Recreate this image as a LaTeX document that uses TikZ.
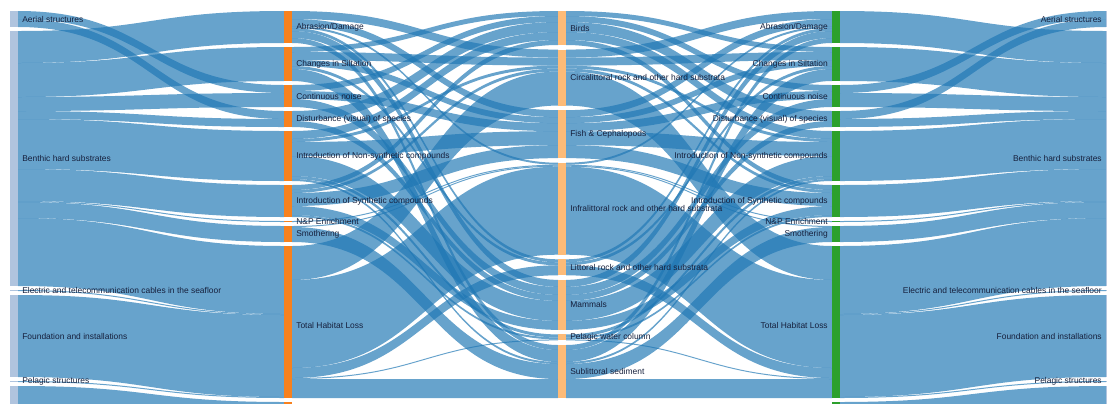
\documentclass[tikz,border=0pt]{standalone}
\usepackage{fontspec}
\setmainfont{Liberation Sans}
\usetikzlibrary{calc}

\definecolor{flowblue}{RGB}{31,119,180}
\definecolor{srcbar}{RGB}{176,196,222}
\definecolor{presbar}{RGB}{247,129,30}
\definecolor{habbar}{RGB}{253,187,120}
\definecolor{presbarR}{RGB}{44,160,44}
\definecolor{lbltext}{RGB}{22,32,60}

\tikzset{
  slot/.style={inner sep=0pt, outer sep=0pt, minimum width=0.2cm, anchor=north west, draw=none},
  flow/.style={fill=flowblue, fill opacity=0.68},
  lbl/.style={font=\fontsize{6pt}{7pt}\selectfont, text=lbltext, inner sep=0pt},
}

% a node slot of the Sankey: name, x, top y, height (all in px units)
\newcommand\sknode[4]{%
  \node[slot, minimum height=#4*0.025cm] (#1) at (#2,#3) {};
  \expandafter\xdef\csname so@#1\endcsname{0}%
  \expandafter\xdef\csname ti@#1\endcsname{0}%
}
% a flow band from the east side of #1 to the west side of #2, width #3
\newcommand\sklink[3]{%
  \pgfmathsetmacro\skso{\csname so@#1\endcsname}%
  \pgfmathsetmacro\skti{\csname ti@#2\endcsname}%
  \path ($(#1.north east)+(0,\skso)$) coordinate (a1)
        ($(#1.north east)+(0,\skso+#3)$) coordinate (a2)
        ($(#2.north west)+(0,\skti)$) coordinate (b1)
        ($(#2.north west)+(0,\skti+#3)$) coordinate (b2)
        ($(a1)!0.5!(b1)$) coordinate (m);
  \fill[flow] (a1) .. controls (m |- a1) and (m |- b1) .. (b1)
     -- (b2) .. controls (m |- b2) and (m |- a2) .. (a2) -- cycle;
  \pgfmathsetmacro\sktmp{\skso+#3}%
  \expandafter\xdef\csname so@#1\endcsname{\sktmp}%
  \pgfmathsetmacro\sktmp{\skti+#3}%
  \expandafter\xdef\csname ti@#2\endcsname{\sktmp}%
}
\newcommand\skbar[2]{\fill[#2] (#1.north west) rectangle (#1.south east);}

\begin{document}
\begin{tikzpicture}[x=0.025cm, y=-0.025cm]
\useasboundingbox (0,0) rectangle (1107,403);
\clip (0,0) rectangle (1107,403);

% ---- structures (left)
\sknode{aer}{10}{11}{16}
\sknode{ben}{10}{31}{255}
\sknode{ele}{10}{290}{1}
\sknode{fou}{10}{295}{82}
\sknode{pel}{10}{381}{1}
\sknode{low}{10}{386}{20}
% ---- pressures (left)
\sknode{abr}{284}{11}{32}
\sknode{sil}{284}{47}{34}
\sknode{noi}{284}{85}{22}
\sknode{dis}{284}{111}{16}
\sknode{nsy}{284}{131}{50}
\sknode{syn}{284}{185}{32}
\sknode{nep}{284}{221}{1}
\sknode{smo}{284}{226}{16}
\sknode{thl}{284}{246}{152}
\sknode{lowP}{284}{402}{20}
% ---- habitats and species (centre)
\sknode{bir}{558}{11}{34}
\sknode{cir}{558}{49.57}{56}
\sknode{fis}{558}{110.14}{48}
\sknode{inf}{558}{162.71}{92}
\sknode{lit}{558}{259.29}{16}
\sknode{mam}{558}{279.86}{50}
\sknode{pwc}{558}{334.43}{6}
\sknode{sub}{558}{345}{53}
% ---- pressures (right)
\sknode{abrR}{832}{11}{32}
\sknode{silR}{832}{47}{34}
\sknode{noiR}{832}{85}{22}
\sknode{disR}{832}{111}{16}
\sknode{nsyR}{832}{131}{50}
\sknode{synR}{832}{185}{32}
\sknode{nepR}{832}{221}{1}
\sknode{smoR}{832}{226}{16}
\sknode{thlR}{832}{246}{152}
\sknode{lowPR}{832}{402}{20}
% ---- structures (right)
\sknode{aerR}{1106}{11}{16}
\sknode{benR}{1106}{31}{255}
\sknode{eleR}{1106}{290}{1}
\sknode{fouR}{1106}{295}{82}
\sknode{pelR}{1106}{381}{1}
\sknode{lowR}{1106}{386}{20}

% ---- structures -> pressures
\sklink{aer}{noi}{8}\sklink{aer}{dis}{8}
\sklink{ben}{abr}{32}\sklink{ben}{sil}{34}\sklink{ben}{noi}{14}\sklink{ben}{dis}{8}
\sklink{ben}{nsy}{50}\sklink{ben}{syn}{32}\sklink{ben}{nep}{1}\sklink{ben}{smo}{16}
\sklink{ben}{thl}{68}
\sklink{ele}{thl}{1}
\sklink{fou}{thl}{82}
\sklink{pel}{thl}{1}
\sklink{low}{lowP}{20}

% ---- pressures -> habitats and species
\sklink{abr}{cir}{8}\sklink{abr}{fis}{7}\sklink{abr}{inf}{2}\sklink{abr}{lit}{3}\sklink{abr}{mam}{7}\sklink{abr}{sub}{5}
\sklink{sil}{bir}{5}\sklink{sil}{cir}{8}\sklink{sil}{fis}{6}\sklink{sil}{lit}{3}\sklink{sil}{sub}{12}
\sklink{noi}{bir}{6}\sklink{noi}{fis}{8}\sklink{noi}{mam}{8}
\sklink{dis}{bir}{10}\sklink{dis}{mam}{6}
\sklink{nsy}{bir}{8}\sklink{nsy}{cir}{3}\sklink{nsy}{fis}{14}\sklink{nsy}{mam}{20}\sklink{nsy}{pwc}{3}\sklink{nsy}{sub}{2}
\sklink{syn}{bir}{5}\sklink{syn}{cir}{3}\sklink{syn}{fis}{13}\sklink{syn}{mam}{9}\sklink{syn}{pwc}{2}
\sklink{nep}{inf}{1}
\sklink{smo}{inf}{1}\sklink{smo}{sub}{15}
\sklink{thl}{cir}{34}\sklink{thl}{inf}{88}\sklink{thl}{lit}{10}\sklink{thl}{pwc}{1}\sklink{thl}{sub}{19}

% ---- habitats and species -> pressures
\sklink{bir}{silR}{5}\sklink{bir}{noiR}{6}\sklink{bir}{disR}{10}\sklink{bir}{nsyR}{8}\sklink{bir}{synR}{5}
\sklink{cir}{abrR}{8}\sklink{cir}{silR}{8}\sklink{cir}{nsyR}{3}\sklink{cir}{synR}{3}\sklink{cir}{thlR}{34}
\sklink{fis}{abrR}{7}\sklink{fis}{silR}{6}\sklink{fis}{noiR}{8}\sklink{fis}{nsyR}{14}\sklink{fis}{synR}{13}
\sklink{inf}{abrR}{2}\sklink{inf}{nepR}{1}\sklink{inf}{smoR}{1}\sklink{inf}{thlR}{88}
\sklink{lit}{abrR}{3}\sklink{lit}{silR}{3}\sklink{lit}{thlR}{10}
\sklink{mam}{abrR}{7}\sklink{mam}{noiR}{8}\sklink{mam}{disR}{6}\sklink{mam}{nsyR}{20}\sklink{mam}{synR}{9}
\sklink{pwc}{nsyR}{3}\sklink{pwc}{synR}{2}\sklink{pwc}{thlR}{1}
\sklink{sub}{abrR}{5}\sklink{sub}{silR}{12}\sklink{sub}{nsyR}{2}\sklink{sub}{smoR}{15}\sklink{sub}{thlR}{19}

% ---- pressures -> structures
\sklink{abrR}{benR}{32}
\sklink{silR}{benR}{34}
\sklink{noiR}{aerR}{8}\sklink{noiR}{benR}{14}
\sklink{disR}{aerR}{8}\sklink{disR}{benR}{8}
\sklink{nsyR}{benR}{50}
\sklink{synR}{benR}{32}
\sklink{nepR}{benR}{1}
\sklink{smoR}{benR}{16}
\sklink{thlR}{benR}{68}\sklink{thlR}{eleR}{1}\sklink{thlR}{fouR}{82}\sklink{thlR}{pelR}{1}
\sklink{lowPR}{lowR}{20}

% ---- node bars
\foreach \n in {aer,ben,ele,fou,pel,low,aerR,benR,eleR,fouR,pelR,lowR} {\skbar{\n}{srcbar}}
\foreach \n in {abr,sil,noi,dis,nsy,syn,nep,smo,thl,lowP} {\skbar{\n}{presbar}}
\foreach \n in {bir,cir,fis,inf,lit,mam,pwc,sub} {\skbar{\n}{habbar}}
\foreach \n in {abrR,silR,noiR,disR,nsyR,synR,nepR,smoR,thlR,lowPR} {\skbar{\n}{presbarR}}

% ---- labels
\begin{scope}[every node/.style={lbl, anchor=west}]
\node at ([xshift=0.1cm]aer.east) {Aerial structures};
\node at ([xshift=0.1cm]ben.east) {Benthic hard substrates};
\node at ([xshift=0.1cm]ele.east) {Electric and telecommunication cables in the seafloor};
\node at ([xshift=0.1cm]fou.east) {Foundation and installations};
\node at ([xshift=0.1cm]pel.east) {Pelagic structures};
\node at ([xshift=0.1cm]abr.east) {Abrasion/Damage};
\node at ([xshift=0.1cm]sil.east) {Changes in Siltation};
\node at ([xshift=0.1cm]noi.east) {Continuous noise};
\node at ([xshift=0.1cm]dis.east) {Disturbance (visual) of species};
\node at ([xshift=0.1cm]nsy.east) {Introduction of Non-synthetic compounds};
\node at ([xshift=0.1cm]syn.east) {Introduction of Synthetic compounds};
\node at ([xshift=0.1cm]nep.east) {N\&P Enrichment};
\node at ([xshift=0.1cm]smo.east) {Smothering};
\node at ([xshift=0.1cm,yshift=-0.075cm]thl.east) {Total Habitat Loss};
\node at ([xshift=0.1cm]bir.east) {Birds};
\node at ([xshift=0.1cm]cir.east) {Circalittoral rock and other hard substrata};
\node at ([xshift=0.1cm]fis.east) {Fish \& Cephalopods};
\node at ([xshift=0.1cm]inf.east) {Infralittoral rock and other hard substrata};
\node at ([xshift=0.1cm]lit.east) {Littoral rock and other hard substrata};
\node at ([xshift=0.1cm]mam.east) {Mammals};
\node at ([xshift=0.1cm]pwc.east) {Pelagic water column};
\node at ([xshift=0.1cm]sub.east) {Sublittoral sediment};
\end{scope}
\begin{scope}[every node/.style={lbl, anchor=east}]
\node at ([xshift=-0.1cm]abrR.west) {Abrasion/Damage};
\node at ([xshift=-0.1cm]silR.west) {Changes in Siltation};
\node at ([xshift=-0.1cm]noiR.west) {Continuous noise};
\node at ([xshift=-0.1cm]disR.west) {Disturbance (visual) of species};
\node at ([xshift=-0.1cm]nsyR.west) {Introduction of Non-synthetic compounds};
\node at ([xshift=-0.1cm]synR.west) {Introduction of Synthetic compounds};
\node at ([xshift=-0.1cm]nepR.west) {N\&P Enrichment};
\node at ([xshift=-0.1cm]smoR.west) {Smothering};
\node at ([xshift=-0.1cm,yshift=-0.075cm]thlR.west) {Total Habitat Loss};
\node at ([xshift=-0.1cm]aerR.west) {Aerial structures};
\node at ([xshift=-0.1cm]benR.west) {Benthic hard substrates};
\node at ([xshift=-0.1cm]eleR.west) {Electric and telecommunication cables in the seafloor};
\node at ([xshift=-0.1cm]fouR.west) {Foundation and installations};
\node at ([xshift=-0.1cm]pelR.west) {Pelagic structures};
\end{scope}
\end{tikzpicture}
\end{document}
